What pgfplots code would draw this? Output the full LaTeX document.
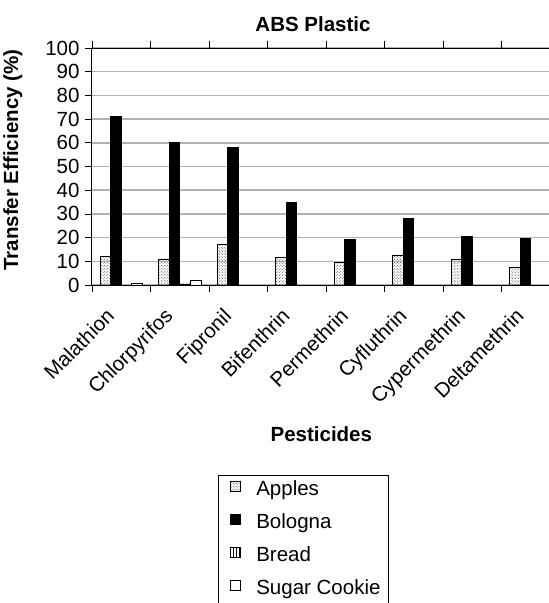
\documentclass[border=0pt]{standalone}
\usepackage{fontspec}
\setmainfont{Liberation Sans}
\usepackage{pgfplots}
\pgfplotsset{compat=1.18}
\usetikzlibrary{patterns}
\newcommand{\chartfont}{\fontsize{20.5bp}{24bp}\selectfont}
\begin{document}
\begin{tikzpicture}
\begin{axis}[
  at={(0,0)}, anchor=south west,
  scale only axis, width=468bp, height=237bp,
  xmin=-0.5, xmax=7.5, ymin=0, ymax=100,
  ybar=0pt, bar width=0.18,
  /pgf/number format/assume math mode=true,
  ytick={0,10,...,100},
  xtick={0,...,7},
  xticklabels={Malathion,Chlorpyrifos,Fipronil,Bifenthrin,Permethrin,Cyfluthrin,Cypermethrin,Deltamethrin},
  minor xtick={-0.5,0.5,...,7.5},
  tick align=outside,
  major tick length=7bp, minor tick length=7bp,
  major x tick style={draw=none},
  minor x tick style={black, line width=0.8bp},
  major y tick style={black, line width=0.8bp},
  ymajorgrids, grid style={gray!60, line width=1.5bp},
  axis line style={black, line width=1bp},
  yticklabel style={font=\chartfont, xshift=-2bp},
  xticklabel style={font=\chartfont, rotate=45, anchor=north east, inner sep=1bp, xshift=-21bp, yshift=2bp},
  ylabel={Transfer Efficiency (\%)},
  ylabel style={font=\bfseries\chartfont, at={(axis description cs:-0.169,0.527)}, anchor=center},
  xlabel={Pesticides},
  xlabel style={font=\bfseries\chartfont, at={(axis description cs:0.49,-0.662)}, anchor=base},
  title={ABS Plastic},
  title style={font=\bfseries\chartfont, at={(axis description cs:0.5,1)}, anchor=base, yshift=11bp, xshift=-13bp},
  legend style={at={(0.269,-0.802)}, anchor=north west, draw=black, line width=0.8bp,
    font=\chartfont, row sep=9.5bp, inner xsep=6bp, inner ysep=3bp,
    nodes={inner sep=2bp, text height=15bp, text depth=4.5bp}},
  legend cell align=left,
  legend image code/.code={\path[draw=none, fill=none] (0bp,0bp) -- (30bp,0bp);\draw[#1, line width=0.6bp] (6bp,-1bp) rectangle (16bp,9bp);},
]
\addplot[draw=black, line width=0.6bp, pattern=crosshatch dots, pattern color=black!75] coordinates {
  (0,12.3) (1,11.0) (2,17.2) (3,11.7) (4,9.6) (5,12.7) (6,11.0) (7,7.5)};
\addplot[draw=black, line width=0.6bp, fill=black] coordinates {
  (0,71.1) (1,60.1) (2,58.2) (3,34.9) (4,19.4) (5,28.2) (6,20.4) (7,19.7)};
\addplot[draw=black, line width=0.6bp, pattern=vertical lines, pattern color=black] coordinates {
  (1,0.5)};
\addplot[draw=black, line width=0.6bp, fill=white] coordinates {
  (0,0.7) (1,2.1)};
\legend{Apples,Bologna,Bread,Sugar Cookie}
\end{axis}
\pgfresetboundingbox
\path[use as bounding box] (-92bp,-318bp) rectangle (457bp,285bp);
\end{tikzpicture}
\end{document}
